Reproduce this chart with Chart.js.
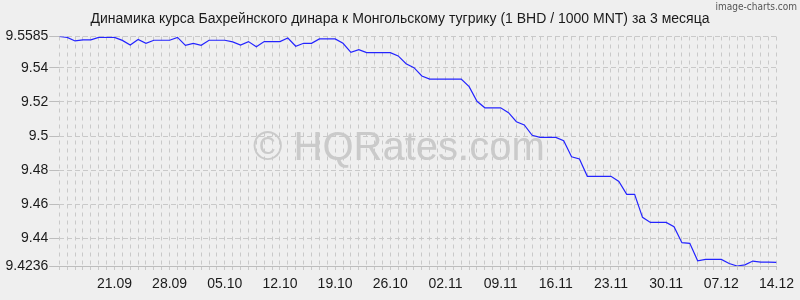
<!DOCTYPE html>
<html>
<head>
<meta charset="utf-8">
<script src="https://cdn.jsdelivr.net/npm/chart.js@4.4.1/dist/chart.umd.min.js"></script>
<style>
    html, body { margin: 0; padding: 0; background: #efefef; }
    canvas { display: block; }
</style>
</head>
<body>
<canvas id="chart" width="800" height="300"></canvas>
<script>
// daily dates, 14.09 .. 14.12
const DATES = [
    '14.09', '15.09', '16.09', '17.09', '18.09', '19.09', '20.09', '21.09', '22.09', '23.09',
    '24.09', '25.09', '26.09', '27.09', '28.09', '29.09', '30.09',
    '01.10', '02.10', '03.10', '04.10', '05.10', '06.10', '07.10', '08.10', '09.10', '10.10',
    '11.10', '12.10', '13.10', '14.10', '15.10', '16.10', '17.10', '18.10', '19.10', '20.10',
    '21.10', '22.10', '23.10', '24.10', '25.10', '26.10', '27.10', '28.10', '29.10', '30.10', '31.10',
    '01.11', '02.11', '03.11', '04.11', '05.11', '06.11', '07.11', '08.11', '09.11', '10.11',
    '11.11', '12.11', '13.11', '14.11', '15.11', '16.11', '17.11', '18.11', '19.11', '20.11',
    '21.11', '22.11', '23.11', '24.11', '25.11', '26.11', '27.11', '28.11', '29.11', '30.11',
    '01.12', '02.12', '03.12', '04.12', '05.12', '06.12', '07.12', '08.12', '09.12', '10.12',
    '11.12', '12.12', '13.12', '14.12'
];

// BHD/MNT (per 1000 MNT)
const RATES = [
    9.5585, 9.5580, 9.5559, 9.5565, 9.5565, 9.5580, 9.5580, 9.5580, 9.5562, 9.5535,
    9.5567, 9.5545, 9.5563, 9.5563, 9.5563, 9.5580, 9.5533, 9.5545, 9.5533, 9.5563,
    9.5563, 9.5563, 9.5553, 9.5535, 9.5555, 9.5525, 9.5555, 9.5555, 9.5555, 9.5576,
    9.5528, 9.5545, 9.5545, 9.5571, 9.5571, 9.5571, 9.5545, 9.5492, 9.5508, 9.5490,
    9.5490, 9.5490, 9.5490, 9.5471, 9.5425, 9.5402, 9.5353, 9.5335, 9.5335, 9.5335,
    9.5335, 9.5335, 9.5290, 9.5204, 9.5166, 9.5166, 9.5166, 9.5137, 9.5084, 9.5065,
    9.5004, 9.4992, 9.4992, 9.4992, 9.4972, 9.4878, 9.4865, 9.4763, 9.4763, 9.4763,
    9.4763, 9.4733, 9.4657, 9.4657, 9.4522, 9.4492, 9.4492, 9.4492, 9.4467, 9.4373,
    9.4369, 9.4267, 9.4275, 9.4275, 9.4275, 9.4251, 9.4236, 9.4243, 9.4265, 9.4259,
    9.4259, 9.4257
];

const Y_TICKS = [9.4236, 9.44, 9.46, 9.48, 9.5, 9.52, 9.54, 9.5585];

const TITLE = 'Динамика курса Бахрейнского динара к Монгольскому тугрику (1 BHD / 1000 MNT) за 3 месяца';
const WATERMARK = '© HQRates.com';
const CREDIT = 'image-charts.com';

const COLORS = {
    background: '#efefef',
    line: '#2424ff',
    grid: '#c9c9c9',
    text: '#1a1a1a',
    watermark: '#cacaca',
    credit: '#555555'
};

const FONT = '"Liberation Sans", Arial, sans-serif';

const textPlugin = {
    id: 'texts',
    beforeDraw(chart) {
        const { ctx, width, height } = chart;
        ctx.save();
        ctx.fillStyle = COLORS.background;
        ctx.fillRect(0, 0, width, height);
        ctx.restore();
    },
    beforeDatasetsDraw(chart) {
        const { ctx } = chart;
        ctx.save();
        ctx.font = '40px ' + FONT;
        ctx.fillStyle = COLORS.watermark;
        ctx.textBaseline = 'alphabetic';
        ctx.fillText(WATERMARK, 253, 160);
        ctx.restore();
    },
    afterDraw(chart) {
        const { ctx } = chart;
        ctx.save();
        ctx.fillStyle = COLORS.text;
        ctx.font = '14px ' + FONT;
        ctx.textAlign = 'center';
        ctx.textBaseline = 'alphabetic';
        ctx.fillText(TITLE, 400, 23);

        ctx.fillStyle = COLORS.credit;
        ctx.font = '10px "Liberation Sans Narrow", "DejaVu Sans Condensed", sans-serif';
        ctx.textAlign = 'right';
        ctx.fillText(CREDIT, 797, 10);
        ctx.restore();
    }
};

new Chart(document.getElementById('chart').getContext('2d'), {
    type: 'line',
    data: {
        datasets: [{
            data: RATES.map((y, x) => ({ x, y })),
            borderColor: COLORS.line,
            borderWidth: 1.2,
            pointRadius: 0,
            tension: 0,
            fill: false
        }]
    },
    plugins: [textPlugin],
    options: {
        responsive: false,
        animation: false,
        layout: {
            padding: { top: 36.5, right: 21, left: 0, bottom: 0 }
        },
        plugins: {
            legend: { display: false },
            tooltip: { enabled: false }
        },
        scales: {
            x: {
                type: 'linear',
                min: 0,
                max: DATES.length - 1,
                afterBuildTicks: scale => {
                    scale.ticks = DATES.map((d, i) => ({ value: i }));
                },
                afterFit: scale => {
                    scale.height = 34;
                },
                grid: {
                    color: COLORS.grid,
                    lineWidth: 1,
                    tickLength: 4,
                    drawTicks: true
                },
                border: {
                    display: true,
                    color: '#bdbdbd',
                    dash: [4, 4]
                },
                ticks: {
                    autoSkip: false,
                    maxRotation: 0,
                    padding: 6,
                    color: COLORS.text,
                    font: { family: FONT, size: 14 },
                    callback: (value) => (value > 0 && value % 7 === 0) ? DATES[value] : ''
                }
            },
            y: {
                min: Y_TICKS[0],
                max: Y_TICKS[Y_TICKS.length - 1],
                afterBuildTicks: scale => {
                    scale.ticks = Y_TICKS.map(v => ({ value: v }));
                },
                afterFit: scale => {
                    scale.width = 59.3;
                },
                grid: {
                    color: COLORS.grid,
                    tickLength: 10,
                    tickBorderDash: [],
                    tickColor: '#bdbdbd'
                },
                border: {
                    display: false,
                    dash: [5, 3]
                },
                ticks: {
                    padding: 1,
                    color: COLORS.text,
                    font: { family: FONT, size: 14 },
                    callback: value => String(value)
                }
            }
        }
    }
});
</script>
</body>
</html>
